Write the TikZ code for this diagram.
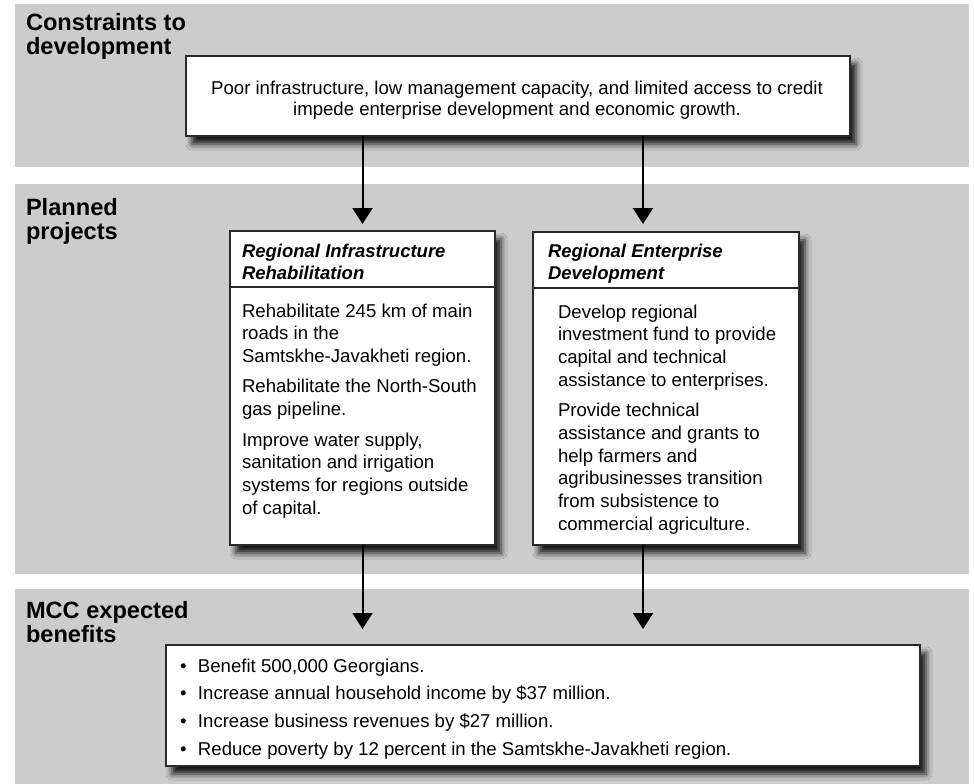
\documentclass[tikz,border=0pt]{standalone}
\usepackage{fontspec}
\setmainfont{Liberation Sans}
\usetikzlibrary{arrows.meta,shadows.blur,calc}

\definecolor{bandgray}{HTML}{CCCCCC}
\definecolor{edgegray}{HTML}{2A2A2A}

% type settings (set inside the parboxes, which reset the leading)
\newcommand{\titlefont}{\fontsize{23.6}{24}\selectfont\bfseries}
\newcommand{\headfont}{\fontsize{18.5}{22.5}\selectfont\bfseries\itshape}
\newcommand{\bodyfont}{\fontsize{18.6}{22.7}\selectfont\setlength{\parskip}{7.8pt}}
\newcommand{\listfont}{\fontsize{18.6}{27.7}\selectfont}
\newcommand{\bul}{\makebox[18pt][l]{•}}

\begin{document}
\begin{tikzpicture}[x=1pt,y=-1pt,
  band/.style={fill=bandgray,draw=none},
  panel/.style={rectangle,draw=edgegray,line width=1.4pt,fill=white,
    inner sep=0pt,outer sep=0pt,anchor=north west,
    blur shadow={shadow xshift=6pt,shadow yshift=-8pt,
      shadow blur radius=6pt,shadow opacity=90}},
  txt/.style={anchor=base west,inner sep=0pt,outer sep=0pt},
  divider/.style={draw=edgegray,line width=2pt},
  flow/.style={draw=black,line width=2pt,
    -{Triangle[width=20pt,length=16pt]}}]

\useasboundingbox (0,0) rectangle (974,784);
\fill[white] (0,0) rectangle (974,784);

% background bands
\fill[band] (15,4) rectangle (969,167);
\fill[band] (15,184) rectangle (969,574);
\fill[band] (15,589) rectangle (969,784);

% band titles
\node[txt] (t1) at (26,31) {\parbox[t]{220pt}{\titlefont Constraints to\\development}};
\node[txt] (t2) at (26,215) {\parbox[t]{220pt}{\titlefont Planned\\projects}};
\node[txt] (t3) at (26,618) {\parbox[t]{220pt}{\titlefont MCC expected\\benefits}};

% constraints box
\node[panel,minimum width=664pt,minimum height=80pt] (constraint) at (186,56) {};
\node[anchor=base,inner sep=0pt] (ctext) at (517,94)
  {\parbox[t]{640pt}{\centering\fontsize{18.6}{21}\selectfont
   Poor infrastructure, low management capacity, and limited access to credit\\
   impede enterprise development and economic growth.}};

% project boxes
\node[panel,minimum width=265pt,minimum height=314pt] (L) at (230,231) {};
\node[panel,minimum width=266pt,minimum height=313pt] (R) at (533,232) {};
\draw[divider] ($(L.north west)+(0,56)$) -- ($(L.north east)+(0,56)$);
\draw[divider] ($(R.north west)+(0,56)$) -- ($(R.north east)+(0,56)$);

\node[txt] (Lhead) at (242,257) {\parbox[t]{245pt}{\headfont Regional Infrastructure\\Rehabilitation}};
\node[txt] (Rhead) at (548,257) {\parbox[t]{245pt}{\headfont Regional Enterprise\\Development}};

\node[txt] (Lbody) at (242,317) {\parbox[t]{250pt}{\bodyfont\raggedright
  Rehabilitate 245 km of main\\roads in the\\Samtskhe-Javakheti region.\par
  Rehabilitate the North-South\\gas pipeline.\par
  Improve water supply,\\sanitation and irrigation\\systems for regions outside\\of capital.}};

\node[txt] (Rbody) at (558,318) {\parbox[t]{240pt}{\bodyfont\raggedright
  Develop regional\\investment fund to provide\\capital and technical\\assistance to enterprises.\par
  Provide technical\\assistance and grants to\\help farmers and\\agribusinesses transition\\from subsistence to\\commercial agriculture.}};

% benefits box
\node[panel,minimum width=754pt,minimum height=121pt] (benefits) at (166,645) {};
\node[txt] (blist) at (180,672) {\parbox[t]{730pt}{\listfont
  \bul Benefit 500,000 Georgians.\\
  \bul Increase annual household income by \$37 million.\\
  \bul Increase business revenues by \$27 million.\\
  \bul Reduce poverty by 12 percent in the Samtskhe-Javakheti region.}};

% connectors
\coordinate (rx) at (643,0);
\draw[flow,shorten >=7pt] (constraint.south -| L.north) -- (L.north);
\draw[flow,shorten >=8pt] (constraint.south -| rx) -- (R.north -| rx);
\draw[flow,shorten >=16pt] (L.south) -- (benefits.north -| L.south);
\draw[flow,shorten >=16pt] (R.south -| rx) -- (benefits.north -| rx);
\end{tikzpicture}
\end{document}
